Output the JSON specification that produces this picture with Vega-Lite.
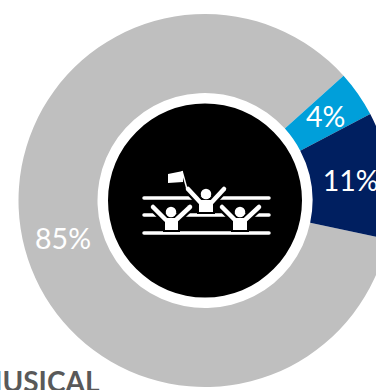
{
  "$schema": "https://vega.github.io/schema/vega-lite/v6.json",
  "width": 376,
  "height": 390,
  "padding": 0,
  "autosize": {"type": "none"},
  "background": "#ffffff",
  "view": {"stroke": null},
  "datasets": {
    "shares": [
      {"group": "Gray", "share": 85, "label": "85%", "rank": 1},
      {"group": "Light blue", "share": 4, "label": "4%", "rank": 2},
      {"group": "Navy", "share": 11, "label": "11%", "rank": 3}
    ],
    "hub": [{"x": 205, "y": 200.5}],
    "stripes": [
      {"x": 144, "x2": 269, "y": 198, "y2": 198},
      {"x": 144, "x2": 269, "y": 215, "y2": 215},
      {"x": 144, "x2": 269, "y": 233, "y2": 233}
    ],
    "arms": [
      {"x": 188, "y": 189, "x2": 201, "y2": 203},
      {"x": 224, "y": 189, "x2": 211, "y2": 203},
      {"x": 153, "y": 207, "x2": 166, "y2": 220},
      {"x": 190, "y": 207, "x2": 176, "y2": 220},
      {"x": 222, "y": 207, "x2": 235, "y2": 220},
      {"x": 259, "y": 207, "x2": 245, "y2": 220}
    ],
    "torsos": [
      {"x": 199, "x2": 213, "y": 200, "y2": 212},
      {"x": 165, "x2": 178, "y": 218, "y2": 230},
      {"x": 233, "x2": 247, "y": 218, "y2": 230}
    ],
    "heads": [
      {"x": 206, "y": 194},
      {"x": 171, "y": 212},
      {"x": 240, "y": 212}
    ],
    "pole": [{"x": 182, "y": 171, "x2": 187, "y2": 189}],
    "flag": [
      {"x": 168, "y": 174, "y2": 183},
      {"x": 183, "y": 171, "y2": 182}
    ],
    "title": [{"x": -24, "y": 384, "text": "MUSICAL"}]
  },
  "encoding": {
    "x": {"field": "x", "type": "quantitative", "scale": {"domain": [0, 376], "range": [0, 376], "zero": false, "nice": false}, "axis": null},
    "y": {"field": "y", "type": "quantitative", "scale": {"domain": [0, 390], "range": [0, 390], "zero": false, "nice": false}, "axis": null}
  },
  "layer": [
    {
      "data": {"name": "shares"},
      "mark": {"type": "arc", "innerRadius": 107.5, "outerRadius": 186.5, "x": 205, "y": 200.5},
      "encoding": {
        "x": null,
        "y": null,
        "theta": {"field": "share", "type": "quantitative", "stack": true, "scale": {"range": [1.78, 8.063]}},
        "order": {"field": "rank", "type": "ordinal"},
        "color": {"field": "group", "type": "nominal", "legend": null, "scale": {"domain": ["Gray", "Light blue", "Navy"], "range": ["#bfbfbf", "#009fda", "#001f60"]}}
      }
    },
    {
      "data": {"name": "shares"},
      "mark": {"type": "text", "radius": 147, "x": 205, "y": 200.5, "dy": 1.5, "font": "Lato", "fontSize": 28.5, "color": "#ffffff", "align": "center", "baseline": "middle"},
      "encoding": {
        "x": null,
        "y": null,
        "theta": {"field": "share", "type": "quantitative", "stack": true, "scale": {"range": [1.78, 8.063]}},
        "order": {"field": "rank", "type": "ordinal"},
        "text": {"field": "label", "type": "nominal"}
      }
    },
    {
      "data": {"name": "hub"},
      "mark": {"type": "point", "filled": true, "opacity": 1, "color": "#000000", "size": 37636}
    },
    {
      "data": {"name": "stripes"},
      "mark": {"type": "rule", "color": "#ffffff", "strokeWidth": 3.5, "strokeCap": "round"},
      "encoding": {"x2": {"field": "x2"}, "y2": {"field": "y2"}}
    },
    {
      "data": {"name": "arms"},
      "mark": {"type": "rule", "color": "#000000", "strokeWidth": 9, "strokeCap": "round"},
      "encoding": {"x2": {"field": "x2"}, "y2": {"field": "y2"}}
    },
    {
      "data": {"name": "torsos"},
      "mark": {"type": "rect", "color": "#000000", "stroke": "#000000", "strokeWidth": 4},
      "encoding": {"x2": {"field": "x2"}, "y2": {"field": "y2"}}
    },
    {
      "data": {"name": "arms"},
      "mark": {"type": "rule", "color": "#ffffff", "strokeWidth": 4.5, "strokeCap": "round"},
      "encoding": {"x2": {"field": "x2"}, "y2": {"field": "y2"}}
    },
    {
      "data": {"name": "torsos"},
      "mark": {"type": "rect", "color": "#ffffff"},
      "encoding": {"x2": {"field": "x2"}, "y2": {"field": "y2"}}
    },
    {
      "data": {"name": "heads"},
      "mark": {"type": "point", "filled": true, "opacity": 1, "color": "#ffffff", "size": 110}
    },
    {
      "data": {"name": "pole"},
      "mark": {"type": "rule", "color": "#ffffff", "strokeWidth": 1.5},
      "encoding": {"x2": {"field": "x2"}, "y2": {"field": "y2"}}
    },
    {
      "data": {"name": "flag"},
      "mark": {"type": "area", "color": "#ffffff", "orient": "vertical"},
      "encoding": {"y2": {"field": "y2"}}
    },
    {
      "data": {"name": "title"},
      "mark": {"type": "text", "font": "Lato", "fontWeight": "bold", "fontSize": 28, "color": "#595959", "align": "left", "baseline": "middle"},
      "encoding": {"text": {"field": "text", "type": "nominal"}}
    }
  ]
}
